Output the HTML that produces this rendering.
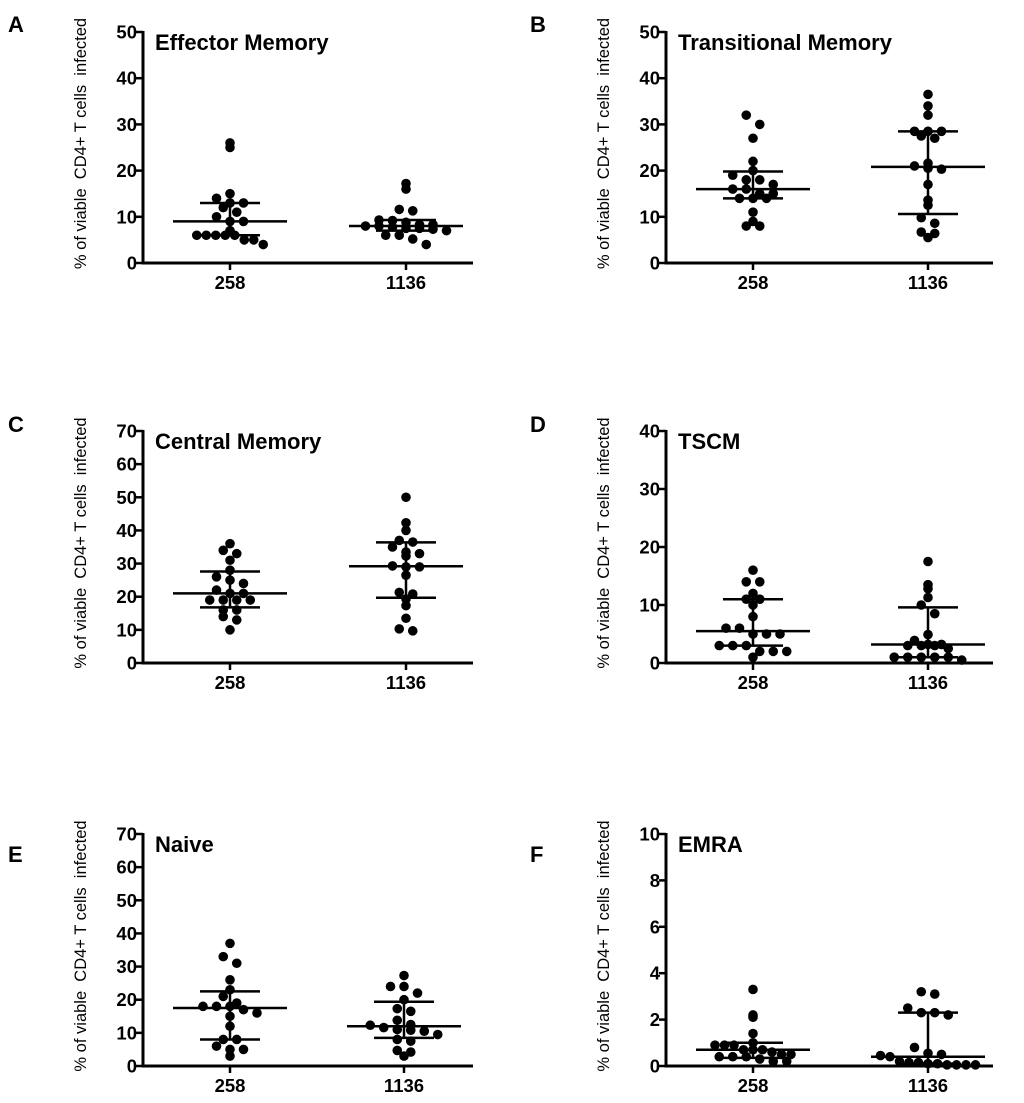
<!DOCTYPE html>
<html><head><meta charset="utf-8">
<style>
html,body{margin:0;padding:0;background:#fff;}
svg{display:block;font-family:"Liberation Sans",Arial,sans-serif;}
text{white-space:pre;}
</style></head>
<body>
<svg id="fig" width="1024" height="1103" viewBox="0 0 1024 1103" xmlns="http://www.w3.org/2000/svg"></svg>
<script>
// ---- data ----
const groupLabels = ["258", "1136"];
const panelLetters = ["A", "B", "C", "D", "E", "F"];
const panelTitles = ["Effector Memory", "Transitional Memory", "Central Memory", "TSCM", "Naive", "EMRA"];
const yMaxes = [50, 50, 70, 40, 70, 10];
const yTickSteps = [10, 10, 10, 10, 10, 2];

const valsA258 = [26, 25, 15, 14, 13, 13, 12, 11, 10, 9, 9, 7, 6, 6, 6, 6, 6, 5, 5, 4];
const valsA1136 = [17.2, 16, 11.6, 11.3, 9.3, 9.2, 8.8, 8.3, 8.3, 8, 8, 7.8, 7.5, 7.5, 7.3, 7, 6, 6, 5.2, 4];
const valsB258 = [32, 30, 27, 22, 20, 19, 18, 18, 17, 16, 16, 15, 15, 14, 14, 14, 11, 9, 8, 8];
const valsB1136 = [36.5, 34, 32, 28.5, 28.5, 28.5, 27.5, 27, 21.6, 21, 20.5, 20.3, 17, 13.6, 12.5, 9.8, 8.6, 6.7, 6.4, 5.5];
const valsC258 = [36, 34, 33, 31, 28, 26, 25, 24, 22, 21, 21, 19, 19, 19, 19, 16, 16, 14, 13, 10];
const valsC1136 = [50, 42.3, 40, 37, 36.5, 35, 33.5, 33, 32.3, 29.3, 29, 29, 26.5, 21.3, 20.8, 19.3, 17.3, 13.5, 10.3, 9.7];
const valsD258 = [16, 14, 14, 12, 11, 11, 10, 8, 6, 6, 5, 5, 5, 3, 3, 3, 2, 2, 2, 1];
const valsD1136 = [17.5, 13.5, 12.8, 11.3, 10, 8.5, 4.9, 3.9, 3.2, 3.2, 3, 3, 3, 2.5, 1, 1, 1, 1, 1, 0.5];
const valsE258 = [37, 33, 31, 26, 23, 21, 19, 18, 18, 18, 17, 16, 15, 12, 8, 8, 6, 5, 5, 3];
const valsE1136 = [27.3, 24, 24, 22, 20, 17.3, 16.5, 13.8, 12.5, 12.3, 11.6, 11, 10.8, 10.5, 9.5, 8, 7.5, 4.7, 4.2, 3];
const valsF258 = [3.3, 2.2, 2.1, 1.4, 1.0, 0.9, 0.9, 0.9, 0.7, 0.7, 0.7, 0.6, 0.5, 0.5, 0.4, 0.4, 0.4, 0.3, 0.2, 0.2];
const valsF1136 = [3.2, 3.1, 2.5, 2.3, 2.3, 2.2, 0.8, 0.55, 0.5, 0.45, 0.4, 0.2, 0.15, 0.15, 0.1, 0.1, 0.05, 0.05, 0.05, 0.05];

const medians258 = [9, 16, 21, 5.5, 17.5, 0.7];
const q1s258 = [6, 14, 16.8, 3, 8, 0.35];
const q3s258 = [13, 19.8, 27.6, 11, 22.5, 1.0];
const medians1136 = [8, 20.8, 29.2, 3.2, 12, 0.4];
const q1s1136 = [7, 10.6, 19.7, 1, 8.5, 0.1];
const q3s1136 = [9.3, 28.5, 36.4, 9.6, 19.4, 2.3];

const seriesValues = [[valsA258, valsA1136], [valsB258, valsB1136], [valsC258, valsC1136],
                      [valsD258, valsD1136], [valsE258, valsE1136], [valsF258, valsF1136]];

// ---- layout ----
const NS = "http://www.w3.org/2000/svg";
const svg = document.getElementById("fig");
const layouts = [
  {ax:143, y0:263, yTop:32, right:473, cats:[230,406], lx:8, ly:32},
  {ax:666, y0:263, yTop:32, right:993, cats:[753,928], lx:530, ly:32},
  {ax:143, y0:663, yTop:431, right:473, cats:[230,406], lx:8, ly:432},
  {ax:666, y0:663, yTop:431, right:993, cats:[753,928], lx:530, ly:432},
  {ax:143, y0:1066, yTop:834, right:473, cats:[230,404], lx:8, ly:862},
  {ax:666, y0:1066, yTop:834, right:993, cats:[753,928], lx:530, ly:862}
];
const R = 4.8;
const BIN = 10;

function el(tag, attrs, parent){
  const e = document.createElementNS(NS, tag);
  for (const k in attrs) e.setAttribute(k, attrs[k]);
  (parent || svg).appendChild(e);
  return e;
}

// GraphPad-like binned scatter: points in same y-band spread horizontally
function swarm(vals, yScale){
  const bins = {};
  vals.forEach(v => {
    const y = yScale(v);
    const b = Math.round(y / BIN);
    (bins[b] = bins[b] || []).push({v:v, y:y});
  });
  const out = [];
  Object.keys(bins).forEach(b => {
    const arr = bins[b];
    const n = arr.length;
    const sp = n > 7 ? 9.5 : 13.5;
    arr.forEach((p, k) => out.push({v:p.v, y:p.y, dx:(k - (n-1)/2) * sp}));
  });
  return out;
}

layouts.forEach((L, i) => {
  const g = el("g", {});
  
  
  const yScale = v => L.y0 - (v / yMaxes[i]) * (L.y0 - L.yTop);

  const letter = el("text", {x:L.lx, y:L.ly, "font-size":22, "font-weight":"bold"}, g);
  letter.textContent = panelLetters[i];
  
  

  const ytitle = el("text", {x:0, y:0, "font-size":16.5, "text-anchor":"middle",
    transform:`translate(${L.ax-57},${(L.y0+L.yTop)/2 - 4}) rotate(-90)`}, g);
  ytitle.textContent = "% of viable  CD4+ T cells  infected";
  
  

  const title = el("text", {x:L.ax+12, y:L.yTop+18, "font-size":22, "font-weight":"bold"}, g);
  title.textContent = panelTitles[i];
  
  

  const axes = el("path", {d:`M${L.ax},${L.yTop-1} V${L.y0} H${L.right}`, stroke:"#000", "stroke-width":3, fill:"none"}, g);
  
  

  for (let t = 0; t <= yMaxes[i] + 1e-9; t += yTickSteps[i]){
    const y = yScale(t);
    const tk = el("line", {x1:L.ax-7, x2:L.ax, y1:y, y2:y, stroke:"#000", "stroke-width":2.5}, g);
    
    
    const tl = el("text", {x:L.ax-6, y:y+6.5, "font-size":18.5, "font-weight":"bold", "text-anchor":"end"}, g);
    tl.textContent = String(Math.round(t));
    
    
  }

  const meds = [medians258[i], medians1136[i]];
  const q1s = [q1s258[i], q1s1136[i]];
  const q3s = [q3s258[i], q3s1136[i]];

  [0,1].forEach(c => {
    const cx = L.cats[c];
    const xt = el("line", {x1:cx, x2:cx, y1:L.y0, y2:L.y0+7, stroke:"#000", "stroke-width":2.5}, g);
    
    
    const xl = el("text", {x:cx, y:L.y0+26, "font-size":18.5, "font-weight":"bold", "text-anchor":"middle"}, g);
    xl.textContent = groupLabels[c];
    
    

    const pts = swarm(seriesValues[i][c], yScale);
    pts.forEach(p => {
      const d = el("circle", {cx:cx + p.dx, cy:p.y, r:R, fill:"#000"}, g);
      
      
    });

    const ym = yScale(meds[c]), y1 = yScale(q1s[c]), y3 = yScale(q3s[c]);
    const eb = el("path", {d:`M${cx-57},${ym} H${cx+57} M${cx-30},${y1} H${cx+30} M${cx-30},${y3} H${cx+30} M${cx},${y1} V${y3}`,
      stroke:"#000", "stroke-width":2.5, fill:"none"}, g);
    
    
  });
});
</script>
</body></html>
